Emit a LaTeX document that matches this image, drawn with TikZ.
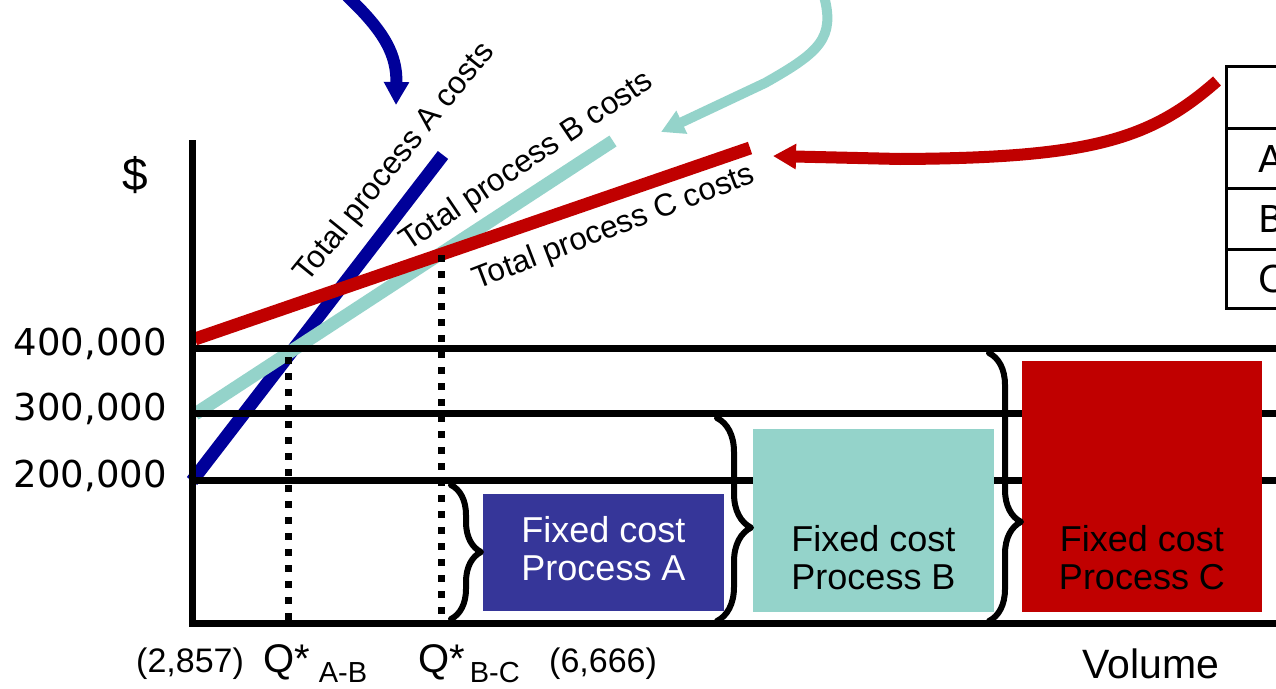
\documentclass[tikz,border=0pt]{standalone}
\usepackage{fontspec}
\setmainfont{Liberation Sans}
\newfontfamily\dvsans{DejaVu Sans}
\usetikzlibrary{arrows.meta,decorations.pathreplacing}

\definecolor{procA}{RGB}{0,0,153}
\definecolor{procAbox}{RGB}{54,54,153}
\definecolor{procB}{RGB}{148,211,202}
\definecolor{procC}{RGB}{192,0,0}

\begin{document}
\begin{tikzpicture}[x=1pt,y=-1pt,
  costline/.style={line width=13pt},
  gridline/.style={line width=7pt},
  axisline/.style={line width=7pt, line join=miter},
  dropline/.style={line width=7pt, dash pattern=on 7pt off 9pt},
  fixbox/.style={draw=none, minimum width=241pt, inner sep=0pt, outer sep=0pt},
  boxtext/.style={align=center, inner sep=0pt, font=\fontsize{36}{38}\selectfont},
  bracket/.style={decorate, line width=6pt, line join=round, line cap=round, decoration={brace, amplitude=#1}},
  pointer/.style={-{Triangle[length=23pt,width=24pt]}},
  slanted/.style={inner sep=0pt, font=\fontsize{31.5}{31.5}\selectfont},
  valtext/.style={anchor=base east, inner sep=0pt, font=\dvsans\fontsize{37}{37}\selectfont},
  qtext/.style={anchor=base west, inner sep=0pt},
  tableline/.style={line width=3pt},
]
\useasboundingbox (0,0) rectangle (1276,688);
\clip (0,0) rectangle (1276,688);

% total cost lines
\coordinate (A0) at (192,481);  \coordinate (A1) at (443,155);
\coordinate (B0) at (195,414);  \coordinate (B1) at (613,141);
\coordinate (C0) at (195,339);  \coordinate (C1) at (750,148);
\draw[costline, procA] (A0) -- (A1);
\draw[costline, procB] (B0) -- (B1);
\draw[costline, procC] (C0) -- (C1);

% fixed-cost levels and axes
\coordinate (g400a) at (192,348); \coordinate (g400b) at (1290,348);
\coordinate (g300a) at (192,413); \coordinate (g300b) at (1290,413);
\coordinate (g200a) at (192,480); \coordinate (g200b) at (1290,480);
\draw[gridline] (g400a) -- (g400b);
\draw[gridline] (g300a) -- (g300b);
\draw[gridline] (g200a) -- (g200b);
\coordinate (ytop) at (192,140); \coordinate (orig) at (192,623); \coordinate (xend) at (1290,623);
\draw[axisline] (ytop) -- (orig) -- (xend);

% break-even drop lines
\coordinate (dAB0) at (288,357); \coordinate (dAB1) at (288,621);
\coordinate (dBC0) at (441,255); \coordinate (dBC1) at (441,621);
\draw[dropline] (dAB0) -- (dAB1);
\draw[dropline] (dBC0) -- (dBC1);

% fixed-cost boxes
\node[fixbox, fill=procAbox, minimum height=117pt] (boxA) at (603.5,552.5) {};
\node[fixbox, fill=procB, minimum height=183pt] (boxB) at (873.5,520.5) {};
\node[fixbox, fill=procC, minimum width=240pt, minimum height=251pt] (boxC) at (1142,486.5) {};
\node[boxtext, text=white] (txtA) at (603.5,549) {Fixed cost\\Process A};
\node[boxtext] (txtB) at (873.5,558) {Fixed cost\\Process B};
\node[boxtext] (txtC) at (1142,558) {Fixed cost\\Process C};

% braces
\coordinate (br1a) at (451,485); \coordinate (br1b) at (451,619);
\coordinate (br2a) at (717,418); \coordinate (br2b) at (717,621);
\coordinate (br3a) at (989,353); \coordinate (br3b) at (989,621);
\draw[bracket=30pt] (br1a) -- (br1b);
\draw[bracket=34pt, decoration={aspect=0.54}] (br2a) -- (br2b);
\draw[bracket=32pt, decoration={aspect=0.63}] (br3a) -- (br3b);

% line labels
\node[slanted, rotate=51] (labA) at (395,163) {Total process A costs};
\node[slanted, rotate=34] (labB) at (527,162) {Total process B costs};
\node[slanted, rotate=21] (labC) at (614,228) {Total process C costs};

% axis labels
\node[inner sep=0pt, anchor=base, font=\fontsize{46}{46}\selectfont] (dollar) at (135,190) {\$};
\node[valtext] (v400) at (167,355) {400,000};
\node[valtext] (v300) at (167,420) {300,000};
\node[valtext] (v200) at (167,487) {200,000};
\node[qtext, font=\fontsize{34}{34}\selectfont] (nAB) at (136,672) {(2,857)};
\node[qtext] (qAB) at (263,672) {\fontsize{40}{40}\selectfont Q*\hspace{9pt}\fontsize{29}{29}\selectfont\raisebox{-10pt}{A-B}};
\node[qtext] (qBC) at (418,672) {\fontsize{40}{40}\selectfont Q*\hspace{5pt}\fontsize{29}{29}\selectfont\raisebox{-10pt}{B-C}};
\node[qtext, font=\fontsize{34}{34}\selectfont] (nBC) at (549,672) {(6,666)};
\node[qtext, font=\fontsize{41}{41}\selectfont] (vol) at (1082,678) {Volume};

% process table
\coordinate (tl) at (1226,66); \coordinate (br) at (1300,308);
\draw[tableline] (tl) rectangle (br);
\coordinate (r1a) at (1226,128); \coordinate (r1b) at (1300,128);
\coordinate (r2a) at (1226,188); \coordinate (r2b) at (1300,188);
\coordinate (r3a) at (1226,249); \coordinate (r3b) at (1300,249);
\draw[tableline] (r1a) -- (r1b);
\draw[tableline] (r2a) -- (r2b);
\draw[tableline] (r3a) -- (r3b);
\node[qtext, font=\dvsans\fontsize{37}{37}\selectfont] (rowA) at (1258,172) {A};
\node[qtext, font=\dvsans\fontsize{37}{37}\selectfont] (rowB) at (1258,232) {B};
\node[qtext, font=\dvsans\fontsize{37}{37}\selectfont] (rowC) at (1258,292) {C};

% pointers onto the cost lines
\coordinate (pA0) at (347,-4);  \coordinate (pAtip) at (396,105);
\draw[pointer, procA, line width=12pt] (pA0) .. controls (385,32) and (397,55) .. (pAtip);
\coordinate (pB0) at (824,-4);  \coordinate (pBbend) at (765,83); \coordinate (pBtip) at (661,132);
\draw[pointer, procB, line width=10pt] (pB0) .. controls (835,38) and (820,52) .. (pBbend) -- (pBtip);
\coordinate (pC0) at (1217,81); \coordinate (pCbend) at (900,159); \coordinate (pCtip) at (773,156);
\draw[pointer, procC, line width=12pt] (pC0) .. controls (1150,140) and (1090,158) .. (pCbend) -- (pCtip);
\end{tikzpicture}
\end{document}
